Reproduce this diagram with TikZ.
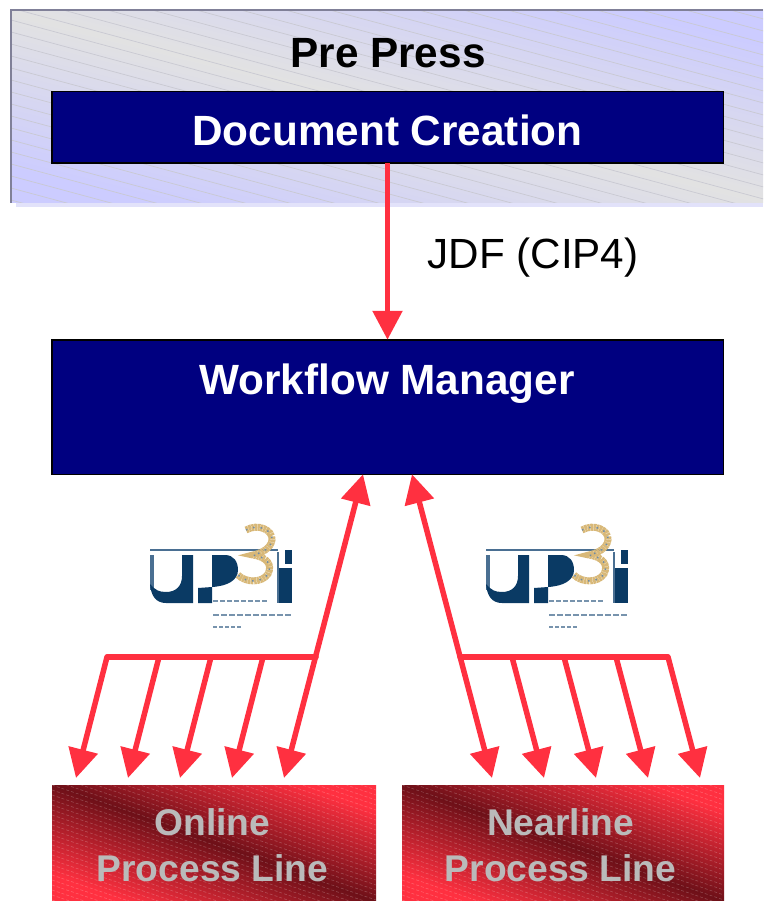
\documentclass[tikz,border=0pt]{standalone}
\usepackage{fontspec}
\setmainfont{Liberation Sans}
\usetikzlibrary{
  arrows.meta,
  positioning
}
\definecolor{navybox}{HTML}{000080}
\definecolor{redline}{HTML}{FF3040}
\definecolor{reddark}{HTML}{6E1018}
\definecolor{panelblue}{HTML}{CCCCFF}
\definecolor{panelgray}{HTML}{E2E2E2}
\definecolor{panelrule}{HTML}{808098}
\definecolor{panelshadow}{HTML}{E2E2FA}
\definecolor{logodark}{HTML}{0A3A64}
\definecolor{logoblue}{HTML}{4A6F92}
\definecolor{logogold}{HTML}{D8B878}
\tikzset{
  threepath/.style={insert path={(96,-20) .. controls (108,-27) and (123,-20) .. (122,-10)
      .. controls (121,-2) and (112,3) .. (103,5) .. controls (116,7) and (123,14) .. (118,24)
      .. controls (112,33) and (96,33) .. (88,25)}},
  logo/.pic={
    \draw[logoblue,line width=1.5pt] (0,0) -- (128,0);
    \fill[logoblue] (0,5) rectangle (4,40);
    \fill[logodark] (32,5) -- (43,5) -- (43,53) -- (16,53) .. controls (6,53) and (1,46) .. (0,34)
      .. controls (5,40) and (9,42) .. (16,42) .. controls (26,42) and (32,36) .. (32,26) -- cycle;
    \fill[logodark] (62,5) -- (75,5) .. controls (84,5) and (88,12) .. (88,20)
      .. controls (88,30) and (78,36) .. (62,37) -- (48,38) -- (48,53) -- (62,53) -- cycle;
    \fill[logodark] (129,18) rectangle (142,53);
    \fill[logoblue] (127,2) rectangle (129,53);
    \fill[logodark] (135,0) rectangle (142,14);
    \draw[logogold,line width=7pt,dash pattern=on 2.5pt off .5pt,threepath];
    \draw[logoblue!80,line width=1.5pt,dash pattern=on 1.5pt off 6pt,threepath];
    \draw[logoblue!75,line width=2pt,dash pattern=on 5pt off 2pt] (63,51) -- (117,51);
    \draw[logoblue!75,line width=2pt,dash pattern=on 6pt off 2pt] (63,65) -- (142,65);
    \draw[logoblue!75,line width=2pt,dash pattern=on 4pt off 2pt] (63,77) -- (92,77);
  }
}
\begin{document}
\begin{tikzpicture}[
      x=1pt,y=-1pt,
      >={Triangle[length=29pt,width=29pt]},
      every node/.style={outer sep=0pt,inner sep=0pt},
      navy box/.style={
         rectangle,
         draw=black,
         line width=1.5pt,
         fill=navybox
      },
      line box/.style={
         rectangle,
         top color=redline,
         bottom color=redline,
         middle color=reddark,
         shading angle=-20
      },
      big text/.style={font=\fontsize{42.3}{50}\selectfont\bfseries},
      line text/.style={text=black!27,align=center,font=\fontsize{37.2}{46}\selectfont\bfseries},
      feed/.style={->,draw=redline,line width=5.5pt},
      bus/.style={draw=redline,line width=5.5pt,line cap=round},
      hatch/.style={draw=#1,line width=0.7pt}
    ]
    \useasboundingbox (0,0) rectangle (763,901);
    % pre press panel
    \fill[panelshadow] (16,203) rectangle (763,207);
    \node (prepress) [rectangle, minimum width=752pt, minimum height=193pt, top color=panelblue,
       bottom color=panelblue, middle color=panelgray, shading angle=-14] at (387,106.5) {};
    \begin{scope}
      \clip (prepress.north west) rectangle (prepress.south east);
      \foreach \y in {-196,-184,...,204}
        \draw[hatch=black!50!panelblue!35] (11,\y) -- ++(760,205);
    \end{scope}
    \draw[panelrule,line width=2pt] (prepress.south west) -- (prepress.north west) -- (prepress.north east);
    \node (pretitle) [big text] at (388,53) {Pre Press};
    \node (creation) [navy box, minimum width=671.5pt, minimum height=71.5pt] at (387.5,127.5) {};
    \node (creationtext) [big text, text=white] at (387.5,130) {Document Creation};
    % manager
    \node (manager) [navy box, minimum width=671.5pt, minimum height=134.5pt] at (387.5,407) {};
    \node (managertext) [big text, text=white] at (387,384) {Workflow Manager};
    \node (jdf) [font=\fontsize{42.2}{50}\selectfont] at (533,258) {JDF (CIP4)};
    \draw[feed] (creation.south) -- (manager.north);
    % process lines
    \node (online) [line box, minimum width=324pt, minimum height=116pt] at (214,843) {};
    \node (nearline) [line box, minimum width=322pt, minimum height=116pt] at (563,843) {};
    \begin{scope}
      \clip (online.north west) rectangle (online.south east);
      \foreach \y in {665,670,...,900}
        \draw[hatch=white,densely dashed,opacity=.22,line width=.6pt] (52,\y) -- ++(324,110);
    \end{scope}
    \begin{scope}
      \clip (nearline.north west) rectangle (nearline.south east);
      \foreach \y in {665,670,...,900}
        \draw[hatch=white,densely dashed,opacity=.22,line width=.6pt] (402,\y) -- ++(322,110);
    \end{scope}
    \node (onlinetext) [line text] at (212.5,845) {Online\\Process Line};
    \node (nearlinetext) [line text] at (560.5,845) {Nearline\\Process Line};
    % logos
    \pic at (150,550) {logo};
    \pic at (486,550) {logo};
    % arrows up and down
    \coordinate (mgrleft) at ([xshift=-24.5pt]manager.south);
    \coordinate (mgrright) at ([xshift=24.5pt]manager.south);
    \coordinate (onlinetip) at (284,778);
    \coordinate (nearlinetip) at (492,778);
    \coordinate (onlinebus) at (316,657);
    \coordinate (nearlinebus) at (460,657);
    \draw[feed,<->] (onlinetip) -- (mgrleft);
    \draw[feed,<->] (nearlinetip) -- (mgrright);
    \draw[bus] (onlinebus) -- (107,657) coordinate (onlineend);
    \draw[bus] (nearlinebus) -- (668,657) coordinate (nearlineend);
    \foreach \n/\x in {1/107,2/159,3/211,4/263}
      \draw[feed] (\x,657) coordinate (onlinedrop\n) -- ++(-31,121);
    \foreach \n/\x in {1/512,2/564,3/616,4/668}
      \draw[feed] (\x,657) coordinate (nearlinedrop\n) -- ++(32,121);
\end{tikzpicture}
\end{document}
